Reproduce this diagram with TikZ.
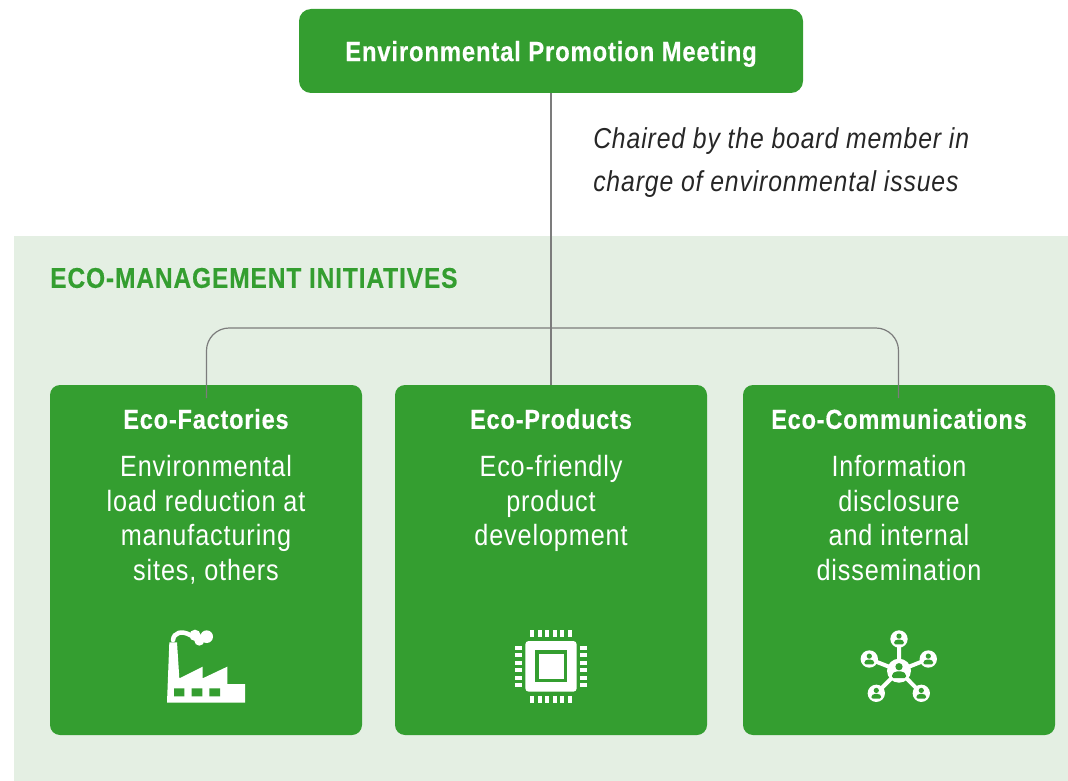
\documentclass[tikz,border=0pt]{standalone}
\usepackage{fontspec}
\setmainfont{Liberation Sans}
\newfontfamily\cfont[FakeStretch=0.86,LetterSpace=3]{Liberation Sans}
\newfontfamily\cbold[FakeStretch=0.86,LetterSpace=3,FakeBold=0.4]{Liberation Sans Bold}
\newfontfamily\citalic[FakeStretch=0.86,LetterSpace=3]{Liberation Sans Italic}
\definecolor{ecogreen}{HTML}{349E30}
\definecolor{ecopanel}{HTML}{E4EFE3}
\definecolor{ecoline}{HTML}{7C7C7C}
\tikzset{
  x=0.75pt,y=-0.75pt,
  cardbox/.style={fill=ecogreen,rounded corners=7.5pt,minimum width=234pt,minimum height=262.5pt,inner sep=0pt,outer sep=0pt},
  topbox/.style={fill=ecogreen,rounded corners=9pt,minimum width=378pt,minimum height=63pt,inner sep=0pt,outer sep=0pt,text=white,text height=15.1pt,text depth=0pt,font=\cbold\fontsize{20.8pt}{24pt}\selectfont},
  cardhead/.style={text=white,font=\cbold\fontsize{20.5pt}{24pt}\selectfont,inner sep=0pt},
  cardtext/.style={text=white,font=\cfont\fontsize{22pt}{26pt}\selectfont,align=center,inner sep=0pt,anchor=north},
  conn/.style={draw=ecoline,line width=0.9pt},
  icon/.style={fill=white,draw=none},
}
\newcommand{\netperson}[3]{%
  \fill[white] #1 circle (#2);
  \begin{scope}[shift={#1},scale=#3]
    \fill[ecogreen] (0,-3.2) circle (2.9);
    \fill[ecogreen,rounded corners=1.2pt] (-5.6,6) -- (-5.6,2.6) -- (-2.8,0.6) -- (2.8,0.6) -- (5.6,2.6) -- (5.6,6) -- cycle;
  \end{scope}}
\begin{document}
\begin{tikzpicture}
\useasboundingbox (0,0) rectangle (1068,781);
\node[fill=ecopanel,minimum width=790.5pt,minimum height=408.75pt,inner sep=0pt,outer sep=0pt,anchor=north west] (panel) at (14,236) {};
\node[anchor=west,inner sep=0pt,text=ecogreen,font=\cbold\fontsize{21.4pt}{24pt}\selectfont] (heading) at (50,278) {ECO-MANAGEMENT INITIATIVES};

\node[topbox,anchor=north west] (meeting) at (299,9) {Environmental Promotion Meeting};
\node[cardbox,anchor=north west] (factories) at (50,385) {};
\node[cardbox,anchor=north west] (products) at (395,385) {};
\node[cardbox,anchor=north west] (comms) at (743,385) {};

\coordinate (leftend) at (206.5,398);
\coordinate (rightend) at (898.5,398);
\draw[conn] (meeting.south) -- (products.north);
\draw[conn,rounded corners=17pt] (leftend) -- (206.5,328) -- (898.5,328) -- (rightend);

\node[anchor=north west,inner sep=0pt,text=black!85,font=\citalic\fontsize{21.6pt}{32.5pt}\selectfont,align=left] (chair) at (593,127) {Chaired by the board member in\\charge of environmental issues};

\node[cardhead] (h1) at (206,419) {Eco-Factories};
\node[cardhead] (h2) at (551,419) {Eco-Products};
\node[cardhead] (h3) at (899,419) {Eco-Communications};
\node[cardtext] (t1) at (206,455) {Environmental\\load reduction at\\manufacturing\\sites, others};
\node[cardtext] (t2) at (551,455) {Eco-friendly\\product\\development};
\node[cardtext] (t3) at (899,455) {Information\\disclosure\\and internal\\dissemination};

% factory icon
\begin{scope}[shift={(140,610)},x=0.25pt,y=-0.25pt]
  \fill[icon] (81,278) -- (88,97) -- (111,97) -- (118,205) -- (188,170) -- (188,205) -- (262,170) -- (262,222) -- (315,222) -- (315,278) -- cycle;
  \fill[ecogreen] (102,235) rectangle (133,259) (155,235) rectangle (187,259) (208,235) rectangle (240,259);
  \draw[white,line width=3.4pt,line cap=round] (99,90) .. controls (101,68) and (125,60) .. (152,76);
  \fill[icon] (165,76) circle (17) (200,80) circle (19) (178,92) circle (15);
\end{scope}

% chip icon
\begin{scope}[shift={(495,610)},x=0.25pt,y=-0.25pt]
  \fill[white,rounded corners=2.5pt] (91,93) rectangle (245,245);
  \fill[ecogreen] (120,121) rectangle (216,217);
  \fill[white] (132,132) rectangle (207,207);
  \foreach \a in {105,128,151,173,196,219}{
    \fill[white] (\a,60) rectangle ++(12,20);
    \fill[white] (\a,259) rectangle ++(12,20);
  }
  \foreach \a in {108,130,153,175,198,220}{
    \fill[white] (60,\a) rectangle ++(21,12);
    \fill[white] (255,\a) rectangle ++(21,12);
  }
\end{scope}

% network icon
\begin{scope}[shift={(845,615)},x=0.25pt,y=-0.25pt]
  \draw[white,line width=3pt]
    (162,167) -- (162,72) (162,167) -- (73,132) (162,167) -- (250,132)
    (162,167) -- (94,235) (162,167) -- (229,235);
\end{scope}
\netperson{(899,670.7)}{9pt}{1.25}
\netperson{(899,639)}{6.5pt}{0.9}
\netperson{(869.3,659)}{6.5pt}{0.9}
\netperson{(928.3,659)}{6.5pt}{0.9}
\netperson{(876.3,693.3)}{6.5pt}{0.9}
\netperson{(921.3,693.3)}{6.5pt}{0.9}
\end{tikzpicture}
\end{document}
